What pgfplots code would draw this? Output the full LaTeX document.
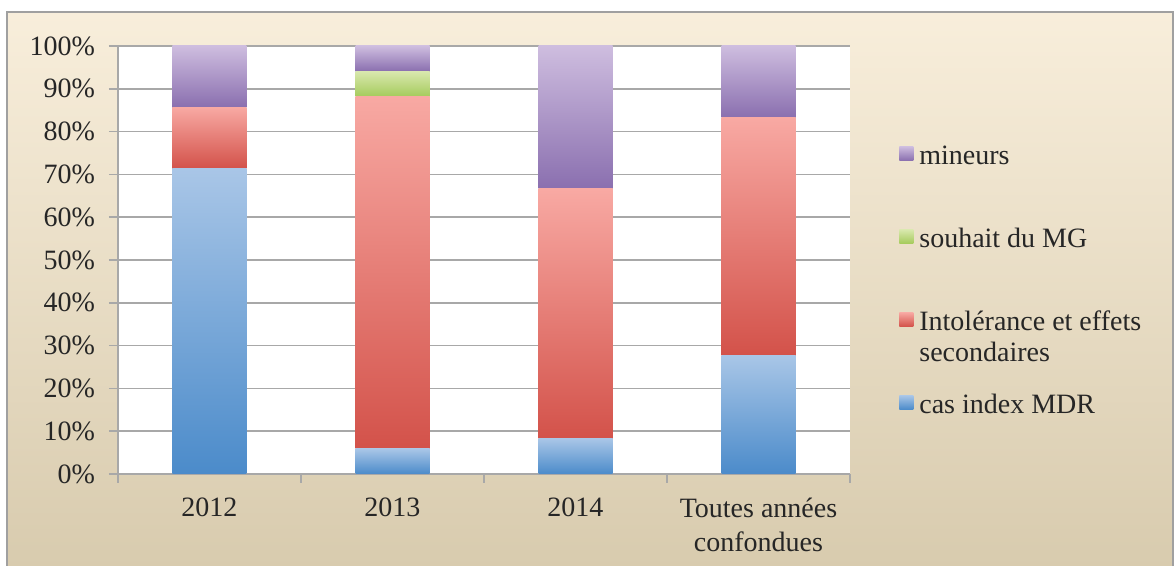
\documentclass[border=0pt]{standalone}
\usepackage{fontspec}
\setmainfont{Liberation Serif}
\usepackage{pgfplots}
\pgfplotsset{compat=1.18}
\definecolor{bgtop}{HTML}{F8EEDB}
\definecolor{bgbot}{HTML}{D8CBAE}
\definecolor{framegray}{HTML}{A0A0A0}
\definecolor{gridgray}{HTML}{A8A8A8}
\definecolor{bluetop}{HTML}{A9C6E7}
\definecolor{bluebot}{HTML}{4B8BCA}
\definecolor{redtop}{HTML}{F8A9A3}
\definecolor{redbot}{HTML}{D3524A}
\definecolor{greentop}{HTML}{D9E8AE}
\definecolor{greenbot}{HTML}{A5CB5C}
\definecolor{purptop}{HTML}{CEBDDF}
\definecolor{purpbot}{HTML}{8A6FAF}
\pgfplotsset{
  sqleg/.style={legend image code/.code={\path[##1,draw=none] (0pt,2pt) rectangle (7pt,9pt);}},
  seg/.style={draw=none,top color=#1top,bottom color=#1bot,sqleg},
  % same frame for every axis; one axis per year so that each
  % segment is its own plot and gets its own gradient
  base/.style={
    at={(0,0)},anchor=south west,
    scale only axis,
    width=366pt,height=214pt,
    ybar stacked,bar width=37pt,
    xmin=-0.5,xmax=3.5,
    ymin=0,ymax=100,
  },
}

\begin{document}
\begin{tikzpicture}
\path[use as bounding box] (-59pt,-46pt) rectangle (528.5pt,237pt);
\shade[top color=bgtop,bottom color=bgbot] (-55.5pt,-47pt) rectangle (527.5pt,231pt);
\draw[framegray,line width=0.8pt] (-55.5pt,-47pt) rectangle (527.5pt,231pt);

% 2012, with the axis itself
\begin{axis}[
  base,
  axis background/.style={fill=white},
  axis lines*=left,
  axis line style={gridgray,line width=0.75pt},
  tick style={gridgray,line width=0.75pt},
  tick align=outside,
  major tick length=4.5pt,
  ymajorgrids,
  grid style={gridgray,line width=0.75pt},
  ytick={0,10,...,100},
  /pgf/number format/assume math mode=true,
  yticklabel={\pgfmathprintnumber{\tick}\%},
  yticklabel style={xshift=-3.5pt},
  xtick={-0.5,0.5,1.5,2.5,3.5},
  x tick label as interval,
  xticklabels={2012,2013,2014,{Toutes années\\confondues}},
  xticklabel style={align=center,yshift=-4pt},
  tick label style={font=\fontsize{14}{17}\selectfont,text=black!85},
]
\addplot[seg=blue] coordinates {(0,71.4)};
\addplot[seg=red]  coordinates {(0,14.3)};
\addplot[seg=purp] coordinates {(0,14.3)};
\end{axis}

% 2013, carries the legend
\begin{axis}[
  base,hide axis,
  reverse legend,
  legend style={draw=none,fill=none,at={(1.0669,0.771)},anchor=north west,
    inner sep=0pt,row sep=28.5pt,column sep=3pt,
    cells={anchor=base west},
    nodes={inner sep=0pt,text height=10pt,text depth=3pt,text=black!85},
    font=\fontsize{14}{15.5}\selectfont},
]
\addplot[seg=blue]  coordinates {(1,5.9)};
\addlegendentry{cas index MDR}
\addplot[seg=red]   coordinates {(1,82.3)};
\addlegendentry{\begin{tabular}[t]{@{}l@{}}Intolérance et effets\\secondaires\end{tabular}}
\addplot[seg=green] coordinates {(1,5.9)};
\addlegendentry{souhait du MG}
\addplot[seg=purp]  coordinates {(1,5.9)};
\addlegendentry{mineurs}
\end{axis}

% 2014
\begin{axis}[base,hide axis]
\addplot[seg=blue] coordinates {(2,8.3)};
\addplot[seg=red]  coordinates {(2,58.3)};
\addplot[seg=purp] coordinates {(2,33.4)};
\end{axis}

% toutes années confondues
\begin{axis}[base,hide axis]
\addplot[seg=blue] coordinates {(3,27.8)};
\addplot[seg=red]  coordinates {(3,55.5)};
\addplot[seg=purp] coordinates {(3,16.7)};
\end{axis}
\end{tikzpicture}
\end{document}
